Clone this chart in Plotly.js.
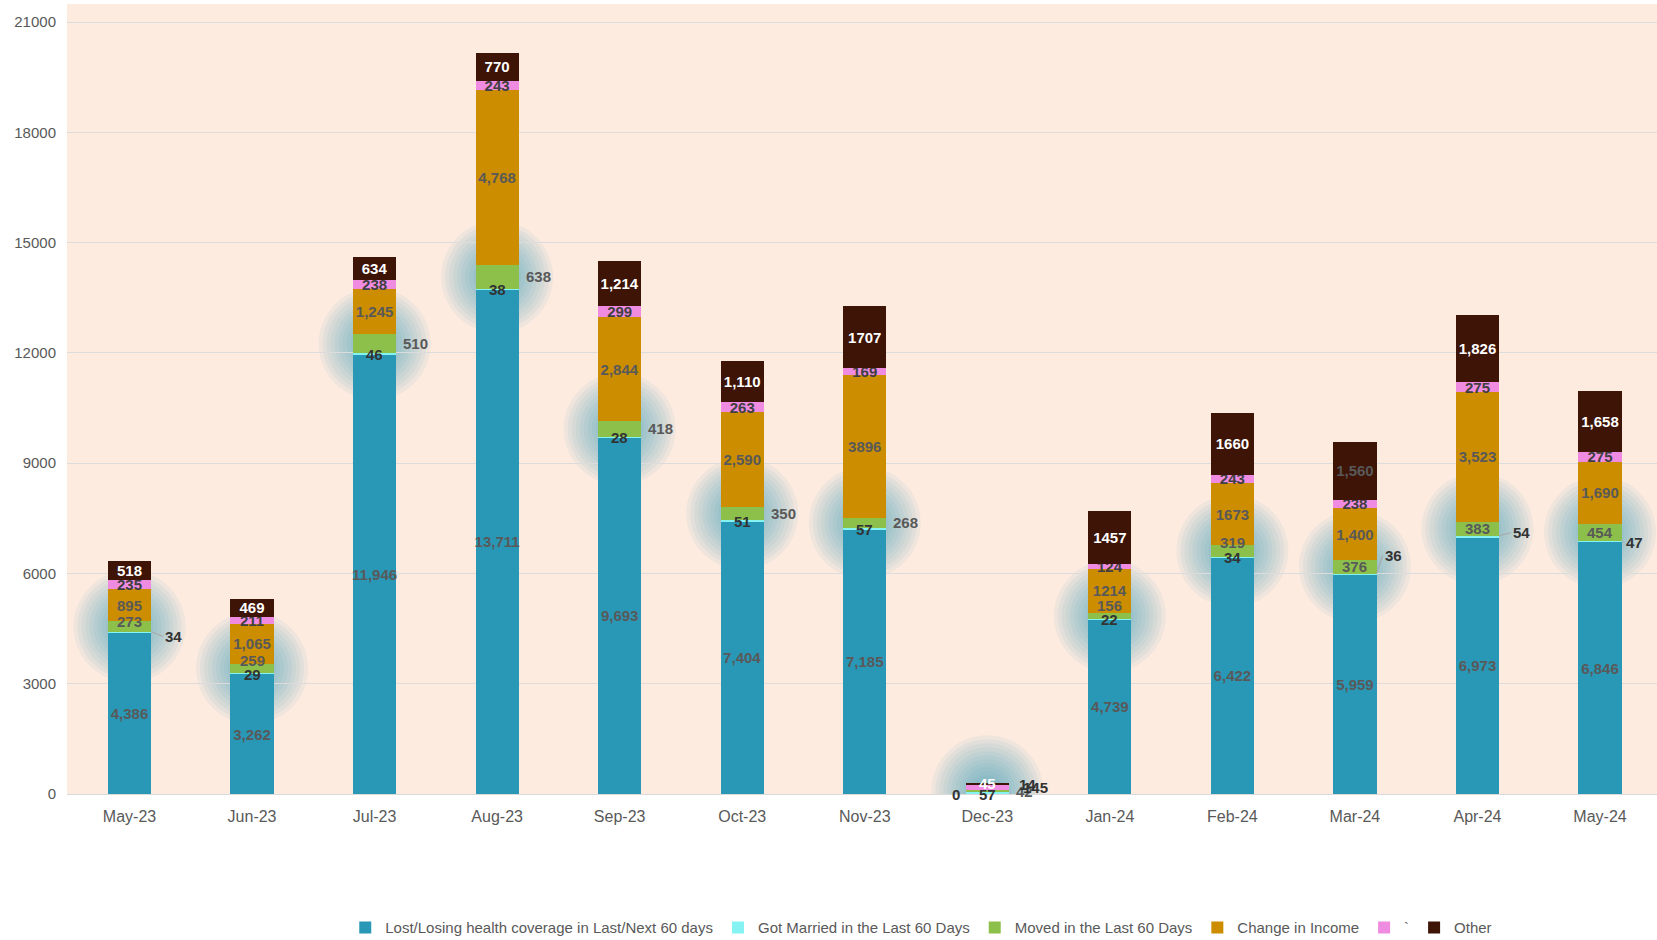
<!DOCTYPE html>
<html><head><meta charset="utf-8">
<script src="https://cdn.plot.ly/plotly-3.0.1.min.js"></script>
<style>html,body{margin:0;padding:0;background:#fff}#chart{width:1657px;height:940px}</style>
</head><body><div id="chart"></div>
<script>
// ---- data ----
const months = ['May-23','Jun-23','Jul-23','Aug-23','Sep-23','Oct-23','Nov-23','Dec-23','Jan-24','Feb-24','Mar-24','Apr-24','May-24'];
const lost    = [4386, 3262, 11946, 13711, 9693, 7404, 7185, 0, 4739, 6422, 5959, 6973, 6846];
const married = [34, 29, 46, 38, 28, 51, 57, 57, 22, 34, 36, 54, 47];
const moved   = [273, 259, 510, 638, 418, 350, 268, 42, 156, 319, 376, 383, 454];
const income  = [895, 1065, 1245, 4768, 2844, 2590, 3896, 14, 1214, 1673, 1400, 3523, 1690];
const tick    = [235, 211, 238, 243, 299, 263, 169, 145, 124, 243, 238, 275, 275];
const other   = [518, 469, 634, 770, 1214, 1110, 1707, 45, 1457, 1660, 1560, 1826, 1658];

const lostLabels   = ['4,386','3,262','11,946','13,711','9,693','7,404','7,185','0','4,739','6,422','5,959','6,973','6,846'];
const incomeLabels = ['895','1,065','1,245','4,768','2,844','2,590','3896','14','1214','1673','1,400','3,523','1,690'];
const otherLabels  = ['518','469','634','770','1,214','1,110','1707','45','1457','1660','1,560','1,826','1,658'];
const yTicks = [0, 3000, 6000, 9000, 12000, 15000, 18000, 21000];
const seriesNames = ['Lost/Losing health coverage in Last/Next 60 days','Got Married in the Last 60 Days','Moved in the Last 60 Days','Change in Income','`','Other'];

// ---- styling / placement ----
const COLORS = ['#2998b7', '#86f3f3', '#8dc04b', '#cc8e00', '#ef8be0', '#3d1406'];
const FONT = '"Liberation Sans", Arial, sans-serif';
const GRAY = '#595959', DARK = '#333333';
const BARGAP = 0.647;
const HALF = (1 - BARGAP) / 2;
// A: moved inside, married outside right ; B: married inside, moved above ; C: married inside, moved outside right
const smallMode = ['A','B','C','C','C','C','C','C','B','B','A','A','A'];
const arrowOff = {0:[12,5], 10:[6,-18], 11:[12,-3], 12:[2,2]};
const movedShiftB = {1: 3, 8: 8, 9: 2};
const decIdx = months.indexOf('Dec-23');
const marIdx = months.indexOf('Mar-24');

function barTrace(i, y, text, color, posArr) {
  return {
    type: 'bar', x: months, y: y, name: seriesNames[i],
    marker: {color: COLORS[i], line: {width: 0}},
    text: text, textposition: posArr || 'none', textangle: 0,
    constraintext: 'none', insidetextanchor: 'middle',
    textfont: {family: FONT, size: 15, weight: 700, color: color},
    hoverinfo: 'x+y+name', cliponaxis: false
  };
}
const posNoDec = months.map((m, i) => i === decIdx ? 'none' : 'inside');
const traces = [
  barTrace(0, lost, lostLabels, GRAY, posNoDec),
  barTrace(1, married, null, DARK),
  barTrace(2, moved, null, GRAY),
  barTrace(3, income, incomeLabels, GRAY, posNoDec),
  barTrace(4, tick, tick.map(String), '#404040', posNoDec),
  barTrace(5, other, otherLabels, months.map((m, i) => i === marIdx ? GRAY : '#ffffff'), months.map(() => 'inside'))
];

const annotations = [];
const lblFont = c => ({family: FONT, size: 15, weight: 700, color: c});
months.forEach((m, i) => {
  const mode = smallMode[i];
  const topLost = lost[i], topMar = lost[i] + married[i], topMov = topMar + moved[i];
  if (mode === 'A') {
    const off = arrowOff[i] || [12, 4];
    annotations.push({x: i + HALF, y: topMar, text: String(married[i]), showarrow: true,
      ax: off[0], ay: off[1], xanchor: 'left', arrowhead: 0, arrowwidth: 1, arrowcolor: '#a6a6a6',
      font: lblFont(DARK)});
    annotations.push({x: i, y: topMar + moved[i] / 2, yshift: i === 0 ? 5 : 0, text: String(moved[i]), showarrow: false, font: lblFont(GRAY)});
  } else if (mode === 'B') {
    annotations.push({x: i, y: topLost, text: String(married[i]), showarrow: false, font: lblFont(DARK)});
    annotations.push({x: i, y: topMov, yshift: movedShiftB[i] || 3, text: String(moved[i]), showarrow: false, font: lblFont(GRAY)});
  } else {
    annotations.push({x: i, y: topLost, text: String(married[i]), showarrow: false, font: lblFont(DARK)});
    annotations.push({x: i + HALF, y: topMar + moved[i] / 2, xanchor: 'left', xshift: 5, text: String(moved[i]),
      showarrow: false, font: lblFont(GRAY)});
  }
});
// Dec-23 small segments labelled beside the bar
annotations.push({x: decIdx - HALF, y: lost[decIdx], xanchor: 'right', xshift: -4, text: lostLabels[decIdx], showarrow: false, font: lblFont(DARK)});
const decIncMid = lost[decIdx] + married[decIdx] + moved[decIdx] + income[decIdx] / 2;
const decTickMid = decIncMid + income[decIdx] / 2 + tick[decIdx] / 2;
annotations.push({x: decIdx + HALF, y: decIncMid, xanchor: 'left', xshift: 8, yshift: 6, text: incomeLabels[decIdx], showarrow: false, font: lblFont(DARK)});
annotations.push({x: decIdx + HALF, y: decTickMid, xanchor: 'left', xshift: 12, text: String(tick[decIdx]), showarrow: false, font: lblFont(DARK)});

// soft glow behind the small segments
const shapes = [];
const radii = [];
for (let r = 56; r >= 12; r -= 4) radii.push(r);
months.forEach((m, i) => {
  const cy = lost[i] + married[i] + moved[i] / 2;
  radii.forEach(r => shapes.push({
    type: 'circle', layer: 'below', xref: 'x', yref: 'y',
    xsizemode: 'pixel', ysizemode: 'pixel', xanchor: i, yanchor: cy,
    x0: -r, x1: r, y0: -r, y1: r,
    fillcolor: 'rgba(50,150,185,0.07)', line: {width: 0}
  }));
});

const layout = {
  width: 1657, height: 940,
  margin: {l: 67, r: 0, t: 4, b: 146, pad: 0},
  paper_bgcolor: '#ffffff', plot_bgcolor: '#fdebe0',
  barmode: 'stack', bargap: BARGAP,
  font: {family: FONT, color: GRAY},
  showlegend: true,
  legend: {orientation: 'h', x: 0.175, xanchor: 'left', yref: 'container', y: 0.013, yanchor: 'middle',
    font: {family: FONT, size: 15, color: GRAY}, traceorder: 'normal', itemwidth: 30},
  xaxis: {type: 'category', range: [-0.51, 12.465], showline: true, linecolor: '#d9d9d9', linewidth: 1,
    showgrid: false, ticks: '', tickfont: {family: FONT, size: 16, color: GRAY}, ticklabelstandoff: 8},
  yaxis: {range: [0, 21490], tickvals: yTicks, ticktext: yTicks.map(String), showgrid: true,
    gridcolor: '#dcdcdc', gridwidth: 1, zeroline: false, showline: false, ticks: '',
    tickfont: {family: FONT, size: 15, color: GRAY}, ticklabelstandoff: 10},
  annotations: annotations,
  shapes: shapes
};

Plotly.newPlot('chart', traces, layout, {displayModeBar: false, staticPlot: true});
</script>
</body></html>
